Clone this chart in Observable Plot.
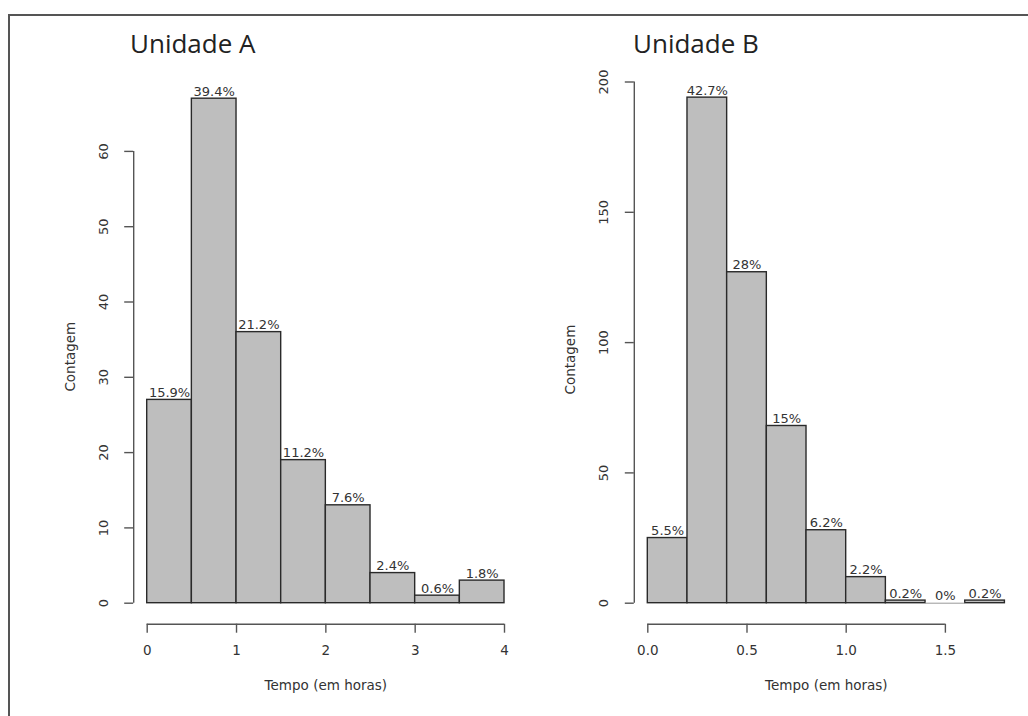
<!DOCTYPE html>
<html>
<head>
<meta charset="utf-8">
<script src="https://cdn.jsdelivr.net/npm/d3@7"></script>
<script src="https://cdn.jsdelivr.net/npm/@observablehq/plot@0.6"></script>
<style>
  html, body { margin: 0; padding: 0; background: #fff; }
  #wrap { position: relative; width: 1028px; height: 716px; overflow: hidden; background: #fff; }
  #frame { position: absolute; left: 8px; top: 14px; width: 1030px; height: 720px;
           border-top: 2px solid #555; border-left: 2px solid #555; }
  .panel { position: absolute; top: 0; }
  .ttl { position: absolute; font-family: "Open Sans", sans-serif; font-size: 26px; line-height: 26px;
         color: #222; white-space: nowrap; }
</style>
</head>
<body>
<div id="wrap">
  <div id="frame"></div>
  <div id="pA" class="panel" style="left:0px"></div>
  <div id="pB" class="panel" style="left:514px"></div>
  <div class="ttl" style="left:130px; top:30px">Unidade A</div>
  <div class="ttl" style="left:633px; top:30px">Unidade B</div>
</div>
<script>
// ---- Unidade A ----
const edgesA  = [0, 0.5, 1, 1.5, 2, 2.5, 3, 3.5, 4];
const countsA = [27, 67, 36, 19, 13, 4, 1, 3];
const pctA    = ["15.9%", "39.4%", "21.2%", "11.2%", "7.6%", "2.4%", "0.6%", "1.8%"];
const yTicksA = [0, 10, 20, 30, 40, 50, 60];
const xTicksA = [0, 1, 2, 3, 4];

// ---- Unidade B ----
const edgesB  = [0, 0.2, 0.4, 0.6, 0.8, 1.0, 1.2, 1.4, 1.6, 1.8];
const countsB = [25, 194, 127, 68, 28, 10, 1, 0, 1];
const pctB    = ["5.5%", "42.7%", "28%", "15%", "6.2%", "2.2%", "0.2%", "0%", "0.2%"];
const yTicksB = [0, 50, 100, 150, 200];
const xTicksB = [0, 0.5, 1.0, 1.5];

const xTitle = "Tempo (em horas)";
const yTitle = "Contagem";

function panel({edges, counts, pct, yTicks, xTicks, xFormat, xMax, yMax,
                marginLeft, marginRight, marginTop, marginBottom}) {
  const bins = counts.map((c, i) => ({x1: edges[i], x2: edges[i + 1], n: c, label: pct[i]}));
  const axisColor = "#555";
  const txt = "#333";
  const font = "DejaVu Sans, sans-serif";
  return Plot.plot({
    width: 514,
    height: 716,
    marginLeft, marginRight, marginTop, marginBottom,
    x: {domain: [0, xMax], axis: null},
    y: {domain: [0, yMax], axis: null},
    style: {fontFamily: font, background: "transparent", overflow: "visible"},
    marks: [
      Plot.rectY(bins, {x1: "x1", x2: "x2", y: "n", fill: "#bebebe", stroke: "#2a2a2a", strokeWidth: 1.4}),
      // empty bins are drawn by R as a flat line
      Plot.ruleY(bins.filter(d => d.n === 0), {x1: "x1", x2: "x2", y: "n", stroke: "#999", strokeWidth: 1}),
      Plot.text(bins, {x: d => (d.x1 + d.x2) / 2, y: "n", text: "label", dy: -3, lineAnchor: "bottom",
                       fontSize: 13, fill: txt, fontFamily: font}),
      // x axis (R style, offset below the bars)
      Plot.ruleY([0], {x1: xTicks[0], x2: xTicks[xTicks.length - 1], dy: 21, stroke: axisColor, strokeWidth: 1.4}),
      Plot.axisX({ticks: xTicks, anchor: "bottom", tickSize: 9, tickPadding: 12, dy: 21, label: null,
                  tickFormat: xFormat, fontSize: 13.5, stroke: axisColor, strokeWidth: 1.4, color: txt, fill: txt}),
      // y axis (R style, offset left of the bars)
      Plot.ruleX([0], {y1: yTicks[0], y2: yTicks[yTicks.length - 1], dx: -13.5, stroke: axisColor, strokeWidth: 1.4}),
      Plot.axisY({ticks: yTicks, anchor: "left", tickSize: 9, dx: -13.5, label: null, tickFormat: () => "",
                  stroke: axisColor, strokeWidth: 1.4}),
      Plot.text(yTicks, {y: d => d, text: d => String(d), frameAnchor: "left", dx: -43.5, rotate: -90,
                         textAnchor: "middle", fontSize: 13, fill: txt, fontFamily: font}),
      Plot.text([yTitle], {frameAnchor: "left", dx: -77, dy: 17, rotate: -90, textAnchor: "middle",
                           fontSize: 13.5, fill: txt, fontFamily: font}),
      Plot.text([xTitle], {frameAnchor: "bottom", dy: 87, textAnchor: "middle",
                           fontSize: 13.5, fill: txt, fontFamily: font})
    ]
  });
}

document.getElementById("pA").appendChild(panel({
  edges: edgesA, counts: countsA, pct: pctA, yTicks: yTicksA, xTicks: xTicksA,
  xFormat: d3.format("d"), xMax: 4, yMax: 70,
  marginLeft: 146.7, marginRight: 10, marginTop: 75.6, marginBottom: 113.3
}));

document.getElementById("pB").appendChild(panel({
  edges: edgesB, counts: countsB, pct: pctB, yTicks: yTicksB, xTicks: xTicksB,
  xFormat: d3.format(".1f"), xMax: 1.8, yMax: 200,
  marginLeft: 133.3, marginRight: 23.6, marginTop: 81.5, marginBottom: 113.3
}));
</script>
</body>
</html>
